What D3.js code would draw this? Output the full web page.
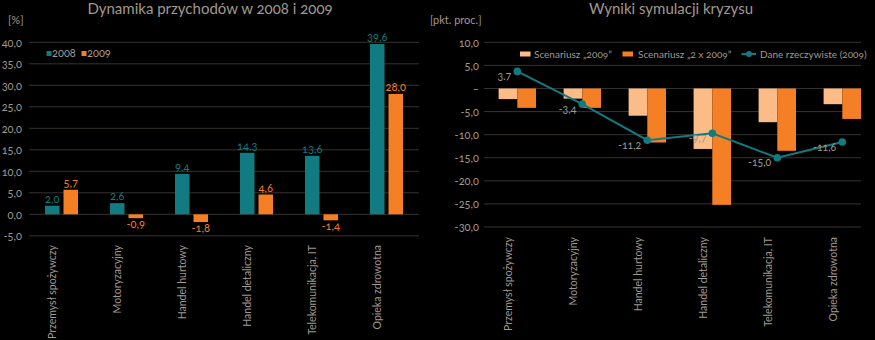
<!DOCTYPE html>
<html><head><meta charset="utf-8">
<script src="https://cdn.jsdelivr.net/npm/d3@7"></script>
<style>
html,body{margin:0;padding:0;background:#000;}
svg{display:block;}
text{font-family:Lato,"Open Sans",sans-serif;font-variant-numeric:oldstyle-nums;}
</style></head><body>
<svg id="c" width="875" height="340"></svg>
<script>
const categories = ["Przemysł spożywczy","Motoryzacyjny","Handel hurtowy","Handel detaliczny","Telekomunikacja, IT","Opieka zdrowotna"];
const rev2008 = [2.0, 2.6, 9.4, 14.3, 13.6, 39.6];
const rev2009 = [5.7, -0.9, -1.8, 4.6, -1.4, 28.0];
const leftTicks = [-5,0,5,10,15,20,25,30,35,40];
const scen2009 = [-2.3, -2.2, -5.9, -13.1, -7.3, -3.4];
const scen2x2009 = [-4.2, -4.2, -11.7, -25.2, -13.5, -6.6];
const actual2009 = [3.7, -3.4, -11.2, -9.7, -15.0, -11.6];
const actualLabels = ["3.7","-3,4","-11,2","-9,7","-15,0","-11,6"];
const rightTicks = [-30,-25,-20,-15,-10,-5,0,5,10];

const TEAL="#127b81", ORANGE="#f47f24", LIGHT="#fbbc88", GRID="#38332e", TXT="#a0998f";
const svg = d3.select("#c");
const fmt = v => d3.format(".1f")(v).replace(".", ",").replace("−","-");

// ---------- LEFT CHART ----------
const L = svg.append("g");
const yL = d3.scaleLinear().domain([-5,40]).range([235.8,42.3]);
const xL = d3.scaleBand().domain(categories).range([29,419]);
const x1L = d3.scaleBand().domain(["2008","2009"]).range([16,49]).paddingInner(0.216);

L.append("text").attr("x",210).attr("y",13.5).attr("text-anchor","middle")
  .attr("fill",TXT).attr("font-size",15).text("Dynamika przychodów w 2008 i 2009");
L.append("text").attr("x",8).attr("y",24).attr("fill",TXT).attr("font-size",11).text("[%]");

const axL = L.append("g").call(d3.axisLeft(yL).tickValues(leftTicks).tickSize(0).tickPadding(0).tickFormat(fmt))
  .attr("transform","translate(22,0)");
axL.select(".domain").remove();
axL.selectAll("text").attr("fill",TXT).attr("font-size",11).attr("font-family","Lato,'Open Sans',sans-serif").attr("dy","0.35em");
L.append("g").selectAll("line").data(leftTicks).join("line")
  .attr("x1",29).attr("x2",419).attr("y1",d=>yL(d)).attr("y2",d=>yL(d))
  .attr("stroke",GRID).attr("stroke-width",1);

const seriesL = [{k:"2008",v:rev2008,c:TEAL},{k:"2009",v:rev2009,c:ORANGE}];
seriesL.forEach(s=>{
  const g = L.append("g");
  g.selectAll("rect").data(categories).join("rect")
    .attr("x",(d)=>xL(d)+x1L(s.k)).attr("width",x1L.bandwidth())
    .attr("y",(d,i)=>yL(Math.max(0,s.v[i]))).attr("height",(d,i)=>Math.abs(yL(s.v[i])-yL(0)))
    .attr("fill",s.c);
  g.selectAll("text").data(categories).join("text")
    .attr("x",(d)=>xL(d)+x1L(s.k)+x1L.bandwidth()/2)
    .attr("y",(d,i)=>s.v[i]>=0 ? yL(s.v[i])-3 : yL(s.v[i])+10)
    .attr("text-anchor","middle").attr("fill",s.c).attr("font-size",11)
    .text((d,i)=>fmt(s.v[i]));
});
L.append("g").selectAll("text").data(categories).join("text")
  .attr("transform",d=>`translate(${xL(d)+xL.bandwidth()/2-6},245) rotate(-90)`)
  .attr("text-anchor","end").attr("fill",TXT).attr("font-size",10.5).attr("font-family","'Liberation Sans',Arial,sans-serif")
  .text(d=>d);
// legend left
const lg = L.append("g");
lg.append("rect").attr("x",46.5).attr("y",51).attr("width",5).attr("height",5).attr("fill",TEAL);
lg.append("text").attr("x",52).attr("y",57).attr("fill",TXT).attr("font-size",11).text("2008");
lg.append("rect").attr("x",81.5).attr("y",51).attr("width",5).attr("height",5).attr("fill",ORANGE);
lg.append("text").attr("x",87).attr("y",57).attr("fill",TXT).attr("font-size",11).text("2009");

// ---------- RIGHT CHART ----------
const R = svg.append("g");
const yR = d3.scaleLinear().domain([-30,10]).range([227,42.3]);
const xR = d3.scaleBand().domain(categories).range([484.8,874.8]);
const x1R = d3.scaleBand().domain(["s1","s2"]).range([32.5-18.7,32.5+18.7]);

R.append("text").attr("x",671).attr("y",13.5).attr("text-anchor","middle")
  .attr("fill",TXT).attr("font-size",15).text("Wyniki symulacji kryzysu");
R.append("text").attr("x",430).attr("y",24).attr("fill",TXT).attr("font-size",11).text("[pkt. proc.]");

const fmtR = v => v===0 ? "–" : fmt(v);
const axR = R.append("g").call(d3.axisLeft(yR).tickValues(rightTicks).tickSize(0).tickPadding(0).tickFormat(fmtR))
  .attr("transform","translate(479,0)");
axR.select(".domain").remove();
axR.selectAll("text").attr("fill",TXT).attr("font-size",11).attr("font-family","Lato,'Open Sans',sans-serif").attr("dy","0.35em");
R.append("g").selectAll("line").data(rightTicks).join("line")
  .attr("x1",484).attr("x2",861).attr("y1",d=>yR(d)).attr("y2",d=>yR(d))
  .attr("stroke",GRID).attr("stroke-width",1);

const seriesR = [{k:"s1",v:scen2009,c:LIGHT},{k:"s2",v:scen2x2009,c:ORANGE}];
seriesR.forEach(s=>{
  R.append("g").selectAll("rect").data(categories).join("rect")
    .attr("x",d=>xR(d)+x1R(s.k)).attr("width",x1R.bandwidth())
    .attr("y",(d,i)=>yR(Math.max(0,s.v[i]))).attr("height",(d,i)=>Math.abs(yR(s.v[i])-yR(0)))
    .attr("fill",s.c);
});
const line = d3.line().x((d,i)=>xR(categories[i])+xR.bandwidth()/2).y(d=>yR(d));
R.append("path").datum(actual2009).attr("d",line).attr("fill","none").attr("stroke",TEAL).attr("stroke-width",2);
R.append("g").selectAll("circle").data(actual2009).join("circle")
  .attr("cx",(d,i)=>xR(categories[i])+xR.bandwidth()/2).attr("cy",d=>yR(d)).attr("r",3.8).attr("fill",TEAL);
R.append("g").selectAll("text").data(actual2009).join("text")
  .attr("x",(d,i)=>xR(categories[i])+xR.bandwidth()/2-6).attr("y",d=>yR(d)+8.5)
  .attr("text-anchor","end").attr("fill",TXT).attr("font-size",10.5)
  .text((d,i)=>actualLabels[i]);
R.append("g").selectAll("text").data(categories).join("text")
  .attr("transform",d=>`translate(${xR(d)+xR.bandwidth()/2-5},237) rotate(-90)`)
  .attr("text-anchor","end").attr("fill",TXT).attr("font-size",10.5).attr("font-family","'Liberation Sans',Arial,sans-serif")
  .text(d=>d);
// legend right
const rg = R.append("g");
rg.append("rect").attr("x",520).attr("y",51.5).attr("width",10.5).attr("height",5).attr("fill",LIGHT);
rg.append("text").attr("x",534).attr("y",57.5).attr("fill",TXT).attr("font-size",10).text("Scenariusz \u201E2009\u201D");
rg.append("rect").attr("x",622.5).attr("y",51.5).attr("width",10.5).attr("height",5).attr("fill",ORANGE);
rg.append("text").attr("x",638).attr("y",57.5).attr("fill",TXT).attr("font-size",10).text("Scenariusz \u201E2 x 2009\u201D");
rg.append("line").attr("x1",741.5).attr("x2",756).attr("y1",54).attr("y2",54).attr("stroke",TEAL).attr("stroke-width",2);
rg.append("circle").attr("cx",749).attr("cy",54).attr("r",3).attr("fill",TEAL);
rg.append("text").attr("x",760).attr("y",57.5).attr("fill",TXT).attr("font-size",10).text("Dane rzeczywiste (2009)");
</script>
</body></html>
